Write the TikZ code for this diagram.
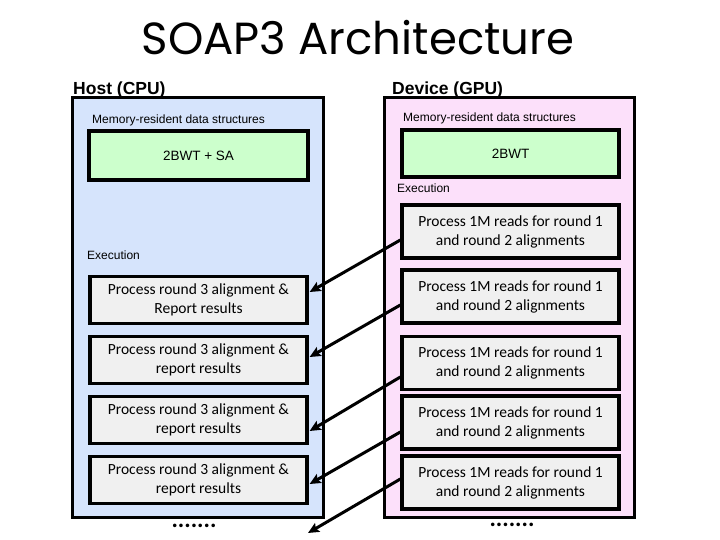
\documentclass[tikz,border=0pt]{standalone}
\usepackage{fontspec}
\setmainfont{Carlito}
\newfontfamily\arial{Liberation Sans}
\newfontfamily\titlefont{Poppins}
\usetikzlibrary{arrows.meta}
\definecolor{hostbg}{RGB}{214,228,252}
\definecolor{devbg}{RGB}{252,224,250}
\definecolor{memgreen}{RGB}{204,255,204}
\definecolor{procgray}{RGB}{240,240,240}
\begin{document}
\begin{tikzpicture}[x=1pt,y=-1pt,
  panel/.style={draw=black, line width=3pt, inner sep=0pt},
  membox/.style={draw=black, line width=3.3pt, fill=memgreen, inner sep=0pt, font=\arial\fontsize{13.5}{16}\selectfont},
  proc/.style={draw=black, line width=3.3pt, fill=procgray, inner sep=0pt, minimum width=217pt, align=center, font=\fontsize{15.5}{19}\selectfont},
  hostproc/.style={proc, minimum height=47pt},
  devproc/.style={proc, minimum height=53pt},
  small/.style={anchor=west, inner sep=0pt, font=\arial\fontsize{12}{14}\selectfont},
  heading/.style={anchor=base west, inner sep=0pt, font=\arial\bfseries\fontsize{17.5}{20}\selectfont},
  flow/.style={-{Stealth[length=11pt,width=10pt,inset=2pt]}, line width=3pt},
  dotsnode/.style={inner sep=0pt, font=\bfseries\fontsize{24}{24}\selectfont}
]
\useasboundingbox (0,0) rectangle (720,540);
\fill[white] (0,0) rectangle (720,540);

% title
\node[inner sep=0pt, font=\titlefont\fontsize{45}{47}\selectfont] (title) at (358,38) {SOAP3 Architecture};

% panels
\node[panel, fill=hostbg, minimum width=251pt, minimum height=419pt] (host) at (197.5,307.5) {};
\node[panel, fill=devbg, minimum width=250pt, minimum height=419pt] (dev) at (509,307.5) {};

\node[heading] (hostlbl) at (73,95) {Host (CPU)};
\node[heading] (devlbl) at (392,95) {Device (GPU)};

% memory-resident
\node[small] (hmem) at (92,120) {Memory-resident data structures};
\node[small] (dmem) at (403,118) {Memory-resident data structures};
\node[membox, minimum width=219pt, minimum height=49pt] (hbwt) at (198.5,155.5) {2BWT + SA};
\node[membox, minimum width=217pt, minimum height=47pt] (dbwt) at (510.5,153.5) {2BWT};

% execution labels
\node[small] (dexec) at (397,188) {Execution};
\node[small] (hexec) at (87,255) {Execution};

% host process boxes
\node[hostproc] (h1) at (198.5,300) {Process round 3 alignment \&\\Report results};
\node[hostproc] (h2) at (198.5,360) {Process round 3 alignment \&\\report results};
\node[hostproc] (h3) at (198.5,420) {Process round 3 alignment \&\\report results};
\node[hostproc] (h4) at (198.5,480) {Process round 3 alignment \&\\report results};

% device process boxes
\node[devproc] (d1) at (510.5,231.5) {Process 1M reads for round 1\\and round 2 alignments};
\node[devproc] (d2) at (510.5,296.5) {Process 1M reads for round 1\\and round 2 alignments};
\node[devproc] (d3) at (510.5,363) {Process 1M reads for round 1\\and round 2 alignments};
\node[devproc] (d4) at (510.5,422.5) {Process 1M reads for round 1\\and round 2 alignments};
\node[devproc] (d5) at (510.5,482.5) {Process 1M reads for round 1\\and round 2 alignments};

% dots
\node[dotsnode] (hdots) at (194,526) {.......};
\node[dotsnode] (ddots) at (512,525) {.......};

% arrows
\coordinate (nextend) at (308,533);
\draw[flow] ([yshift=-8.5pt]d1.west) -- ([yshift=8pt,xshift=1pt]h1.east);
\draw[flow] ([yshift=-8.5pt]d2.west) -- ([yshift=3pt,xshift=1pt]h2.east);
\draw[flow] ([yshift=-14pt]d3.west) -- ([yshift=-11pt,xshift=1pt]h3.east);
\draw[flow] ([yshift=-9.5pt]d4.west) -- ([yshift=-4pt,xshift=1pt]h4.east);
\draw[flow] ([yshift=3.5pt]d5.west) -- (nextend);
\end{tikzpicture}
\end{document}
